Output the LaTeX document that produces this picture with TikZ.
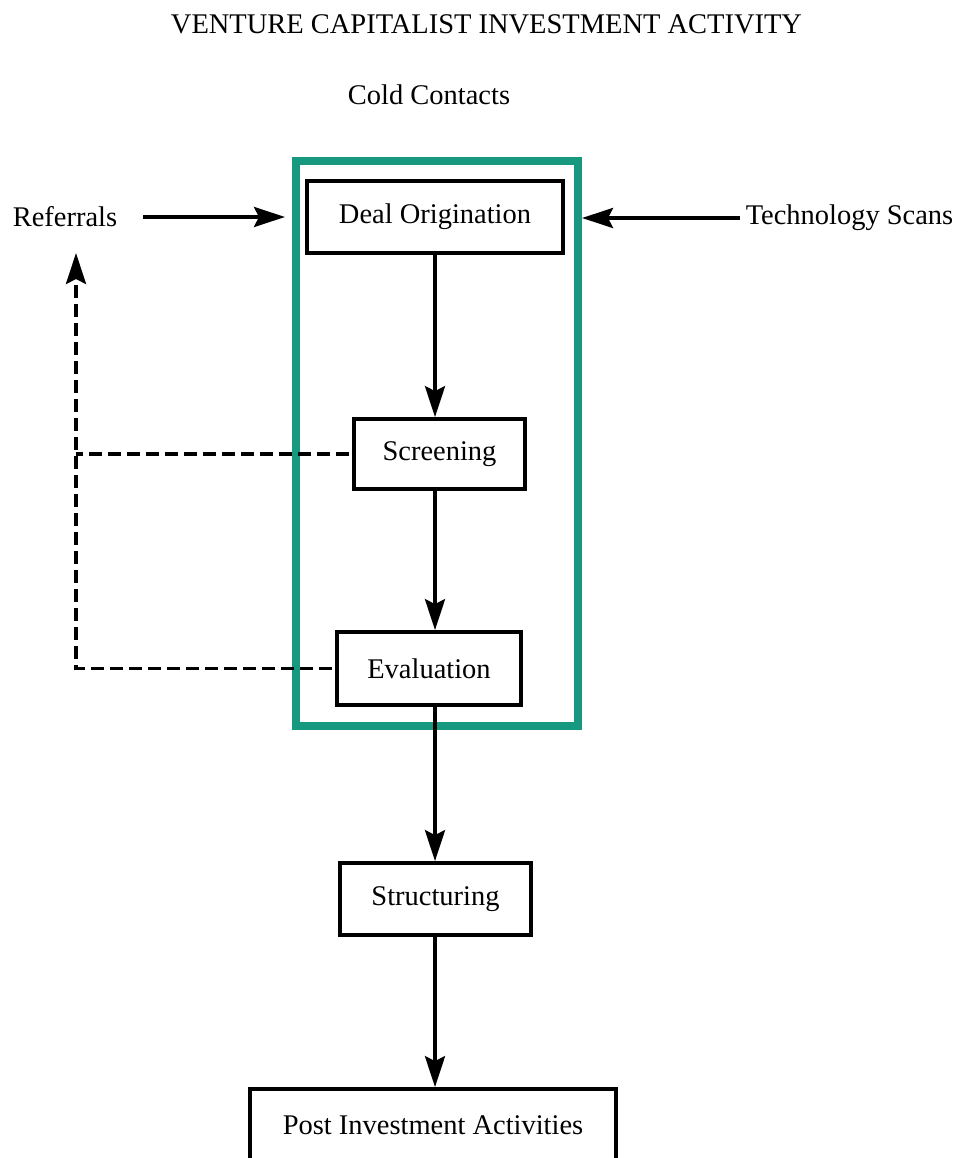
\documentclass[tikz,border=0pt]{standalone}
\usepackage{fontspec}
\setmainfont{Liberation Serif}
\usetikzlibrary{arrows.meta, calc, positioning}
\definecolor{tealm}{HTML}{17997F}

\begin{document}
\begin{tikzpicture}[box/.style={draw, line width=0.075cm, inner sep=0pt},
            arr/.style={-{Stealth[length=0.62cm, width=0.4cm, inset=0.1cm]}, line width=0.075cm},
            dsh/.style={dash pattern=on 0.26cm off 0.12cm, line width=0.07cm}
        ]
        \tikzstyle{every node}=[font=\fontsize{16.2}{19}\selectfont]
        \useasboundingbox (0,0) rectangle (19.12,-23.16);
        \node (title) at (9.73,-0.48) {VENTURE CAPITALIST INVESTMENT ACTIVITY};
        \node (cold) at (8.58,-1.90) {Cold Contacts};
        \node[draw = tealm, line width=0.16cm, minimum width=5.64cm, minimum height=11.3cm] (grn) at (8.74,-8.87) {};
        \node[box, minimum width=5.12cm, minimum height=1.44cm] (deal) at (8.70,-4.34) {Deal Origination};
        \node[box, minimum width=3.42cm, minimum height=1.40cm] (scr) at (8.79,-9.08) {Screening};
        \node[box, minimum width=3.68cm, minimum height=1.46cm] (ev) at (8.58,-13.37) {Evaluation};
        \node[box, minimum width=3.82cm, minimum height=1.44cm] (str) at (8.71,-17.98) {Structuring};
        \node[box, minimum width=7.32cm, minimum height=1.44cm] (post) at (8.66,-22.50) {Post Investment Activities};
        \node (refer) at (1.30,-4.34) {Referrals};
        \node (tech) at (16.99,-4.36) {Technology Scans};
        \coordinate (tip) at (1.52,-5.06);

        \draw[arr, shorten <=0.4cm, shorten >=0.14cm] (refer.east) -- (refer.east -| grn.west);
        \draw[arr] (tech.west) -- (tech.west -| grn.east);
        \draw[arr] (deal.south) -- (deal.south |- scr.north);
        \draw[arr] (scr.south -| deal.south) -- (deal.south |- ev.north);
        \draw[arr] (ev.south -| deal.south) -- (deal.south |- str.north);
        \draw[arr] (str.south -| deal.south) -- (deal.south |- post.north);
        \draw[dsh, shorten <=0.06cm] (scr.west) -- (scr.west -| tip);
        \draw[dsh, arr, line width=0.07cm, shorten <=0.06cm] (ev.west) -| (tip);
    \end{tikzpicture}
\end{document}
